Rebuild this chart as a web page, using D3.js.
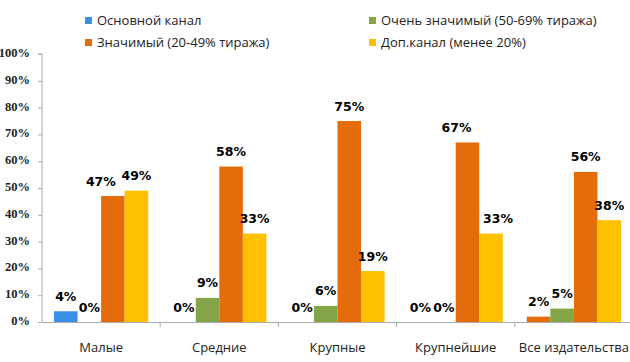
<!DOCTYPE html>
<html>
<head>
<meta charset="utf-8">
<script src="https://cdn.jsdelivr.net/npm/d3@7"></script>
<style>
  body { margin: 0; background: #fff; }
  svg { display: block; }
</style>
</head>
<body>
<div id="chart"></div>
<script>
const categories = ['Малые', 'Средние', 'Крупные', 'Крупнейшие', 'Все издательства']
const seriesNames = ['Основной канал', 'Очень значимый (50-69% тиража)', 'Значимый (20-49% тиража)', 'Доп.канал (менее 20%)']
const mainChannel = [4, 0, 0, 0, 2]
const verySignificant = [0, 9, 6, 0, 5]
const significant = [47, 58, 75, 67, 56]
const extraChannel = [49, 33, 19, 33, 38]
const yTicks = [0, 10, 20, 30, 40, 50, 60, 70, 80, 90, 100]

const colors = ['#3a8fe6', '#83a548', '#e46c0a', '#ffc000']
const series = [mainChannel, verySignificant, significant, extraChannel]

let width = 630
let height = 362
let margin = { top: 54, left: 42, right: -3, bottom: 40 }

let svg = d3.select('#chart')
  .append('svg')
  .attr('width', width)
  .attr('height', height)

let x0 = d3.scaleBand()
  .domain(categories)
  .range([margin.left, width - margin.right])
  .paddingInner(0)
  .paddingOuter(0)

let x1 = d3.scaleBand()
  .domain(d3.range(series.length))
  .range([0, x0.bandwidth()])
  .paddingOuter(0.51)
  .paddingInner(0)

let y = d3.scaleLinear()
  .domain([0, 100])
  .range([height - margin.bottom, margin.top])

// legend, two columns
let legendPos = [[85, 20], [369, 20], [85, 42], [369, 42]]
seriesNames.forEach((name, s) => {
  let [lx, ly] = legendPos[s]
  svg.append('rect')
    .attr('x', lx).attr('y', ly - 3)
    .attr('width', 7).attr('height', 7)
    .attr('fill', colors[s])
  svg.append('text')
    .attr('x', lx + 12).attr('y', ly + 5)
    .attr('font-family', 'Open Sans, sans-serif')
    .attr('font-size', 13)
    .attr('fill', '#222')
    .text(name)
})

// y axis
let yAxis = d3.axisLeft(y)
  .tickValues(yTicks)
  .tickSize(4)
  .tickFormat(d => d + '%')

svg.append('g')
  .attr('class', 'y-axis')
  .attr('transform', 'translate(' + margin.left + ',0)')
  .call(yAxis)
  .call(g => g.select('.domain').attr('stroke', '#aaa').attr('d', 'M-4,' + y(100) + 'H0V' + y(0)))
  .call(g => g.selectAll('.tick line').attr('stroke', '#aaa'))
  .call(g => g.selectAll('.tick text')
    .attr('x', -12)
    .attr('dy', '0.2em')
    .attr('font-family', 'Liberation Serif, serif')
    .attr('font-weight', 'bold')
    .attr('font-size', 12.5)
    .attr('fill', '#222'))

// hand nudges for labels that would collide in the original
let labelShift = { '0-2': -12, '3-2': -11, '3-3': 7 }

// bars
categories.forEach((c, ci) => {
  series.forEach((vals, si) => {
    let v = vals[ci]
    let bx = x0(c) + x1(si)
    // the main-channel bar of the total group is orange in the original
    let fill = (ci === 4 && si === 0) ? colors[2] : colors[si]
    if (v > 0) {
      svg.append('rect')
        .attr('x', bx)
        .attr('y', y(v))
        .attr('width', x1.bandwidth())
        .attr('height', y(0) - y(v))
        .attr('fill', fill)
    }
    svg.append('text')
      .attr('x', bx + x1.bandwidth() / 2 + (labelShift[ci + '-' + si] || 0))
      .attr('y', y(v) - 10.5)
      .attr('text-anchor', 'middle')
      .attr('font-family', 'DejaVu Sans, sans-serif')
      .attr('font-weight', 'bold')
      .attr('font-size', 12.5)
      .attr('fill', '#000')
      .text(v + '%')
  })
})

// x axis
let xAxis = d3.axisBottom(x0).tickSize(0).tickSizeOuter(0)
svg.append('g')
  .attr('class', 'x-axis')
  .attr('transform', 'translate(0,' + y(0) + ')')
  .call(xAxis)
  .call(g => g.select('.domain').attr('stroke', '#aaa'))
  .call(g => g.selectAll('.tick text')
    .attr('dy', 0)
    .attr('y', 30)
    .attr('font-family', 'Open Sans, sans-serif')
    .attr('font-size', 13)
    .attr('fill', '#222'))

// separators between categories
svg.append('g')
  .selectAll('line')
  .data(categories.slice(1))
  .enter()
  .append('line')
  .attr('x1', d => x0(d))
  .attr('x2', d => x0(d))
  .attr('y1', y(0))
  .attr('y2', y(0) + 5)
  .attr('stroke', '#aaa')
</script>
</body>
</html>
